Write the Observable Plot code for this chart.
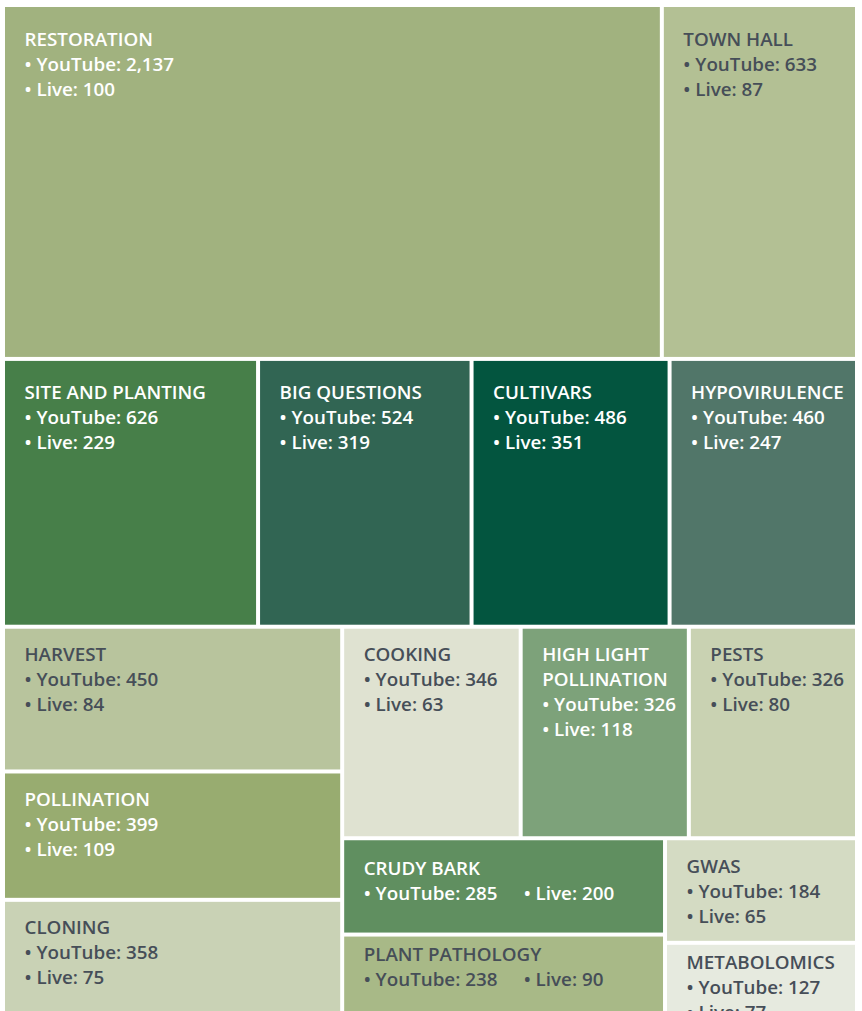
<!DOCTYPE html>
<html>
<head>
<meta charset="utf-8">
<script src="https://cdn.jsdelivr.net/npm/d3@7"></script>
<script src="https://cdn.jsdelivr.net/npm/@observablehq/plot@0.6"></script>
<style>
  html, body { margin: 0; padding: 0; background: #fff; overflow: hidden; }
  #chart svg { display: block; }
</style>
</head>
<body>
<div id="chart"></div>
<script>
// ---- data ----
const names = ["Restoration", "Town Hall", "Site and Planting", "Big Questions", "Cultivars", "Hypovirulence",
  "Harvest", "Pollination", "Cloning", "Cooking", "High Light Pollination", "Pests",
  "Crudy Bark", "Plant Pathology", "GWAS", "Metabolomics"];
const youtube = [2137, 633, 626, 524, 486, 460, 450, 399, 358, 346, 326, 326, 285, 238, 184, 127];
const live = [100, 87, 229, 319, 351, 247, 84, 109, 75, 63, 118, 80, 200, 90, 65, 77];
// nesting of the treemap blocks (structure only)
const blocks = ["r1", "r1", "r2", "r2", "r2", "r2",
  "r3/left", "r3/left", "r3/left", "r3/right/upper", "r3/right/upper", "r3/right/upper",
  "r3/right/lower/a", "r3/right/lower/a", "r3/right/lower/b", "r3/right/lower/b"];
// ---- style ----
const palette = ["#a1b27f", "#b3c094", "#477f49", "#316553", "#03553f", "#517669",
  "#b8c49d", "#98ac70", "#c9d2b5", "#dfe2d1", "#7da27a", "#c9d2b2",
  "#608f60", "#a8b987", "#d4dbc3", "#e6eadf"];
const darkInk = "#464e58";
const FONT = "'Open Sans', 'DejaVu Sans', sans-serif";
const FW = 600;
const FS = 18.8;
const LINE = 25;
const LH = LINE / FS;

// ---- hierarchy ----
const tree = {name: "root", children: []};
names.forEach((n, i) => {
  let node = tree;
  for (const key of blocks[i].split("/")) {
    let c = node.children.find(c => c.name === key);
    if (!c) { c = {name: key, children: []}; node.children.push(c); }
    node = c;
  }
  node.children.push({name: n, youtube: youtube[i], live: live[i], color: palette[i]});
});

const W = 850, H = 1006;
const root = d3.hierarchy(tree).sum(d => d.children ? 0 : d.youtube);
d3.treemap()
  .size([W, H])
  .paddingInner(4)
  .tile((node, x0, y0, x1, y1) =>
    (node.depth % 2 ? d3.treemapDice : d3.treemapSlice)(node, x0, y0, x1, y1))(root);

const ctx = document.createElement("canvas").getContext("2d");
ctx.font = `${FW} ${FS}px ${FONT}`;
function wrap(text, maxW) {
  const words = text.split(" ");
  const lines = [];
  let cur = "";
  for (const w of words) {
    const t = cur ? cur + " " + w : w;
    if (cur && ctx.measureText(t).width > maxW) { lines.push(cur); cur = w; }
    else cur = t;
  }
  lines.push(cur);
  return lines;
}
const fmt = d3.format(",");
const firstBaseline = 0.71 * LH * FS; // Plot's top line anchor offset
const cells = root.leaves().map(d => {
  const w = d.x1 - d.x0, h = d.y1 - d.y0;
  const compact = w > 280 && h < 110;
  const title = wrap(d.data.name.toUpperCase(), w - 30);
  const yt = "• YouTube: " + fmt(d.data.youtube);
  const lv = "• Live: " + fmt(d.data.live);
  const base = h > 230 ? 38 : (h < 80 ? 23.5 : (compact ? 34 : 32));
  const ty = d.y0 + base - firstBaseline;
  const ink = d3.lab(d.data.color).l > 71 ? darkInk : "#ffffff";
  return {
    name: d.data.name, x0: d.x0, x1: d.x1, y0: d.y0, y1: d.y1,
    label: (compact ? [...title, yt] : [...title, yt, lv]).join("\n"),
    extra: compact ? lv : null,
    extraY: ty + LINE * title.length,
    ty, ink
  };
});

const chart = Plot.plot({
  width: 862,
  height: 1011,
  margin: 0,
  x: {domain: [0, W], range: [5, 855], axis: null},
  y: {domain: [0, H], range: [7, 7 + H], axis: null},
  color: {domain: names, range: palette},
  style: {fontFamily: FONT, background: "#ffffff"},
  marks: [
    Plot.rect(cells, {x1: "x0", x2: "x1", y1: "y0", y2: "y1", fill: "name"}),
    Plot.text(cells, {
      x: "x0", y: "ty", text: "label", dx: 19,
      textAnchor: "start", lineAnchor: "top", lineHeight: LH,
      fontSize: FS, fontWeight: FW, fill: d => d.ink
    }),
    Plot.text(cells.filter(d => d.extra), {
      x: "x0", y: "extraY", text: "extra", dx: 179,
      textAnchor: "start", lineAnchor: "top", lineHeight: LH,
      fontSize: FS, fontWeight: FW, fill: d => d.ink
    })
  ]
});
document.getElementById("chart").append(chart);
</script>
</body>
</html>
